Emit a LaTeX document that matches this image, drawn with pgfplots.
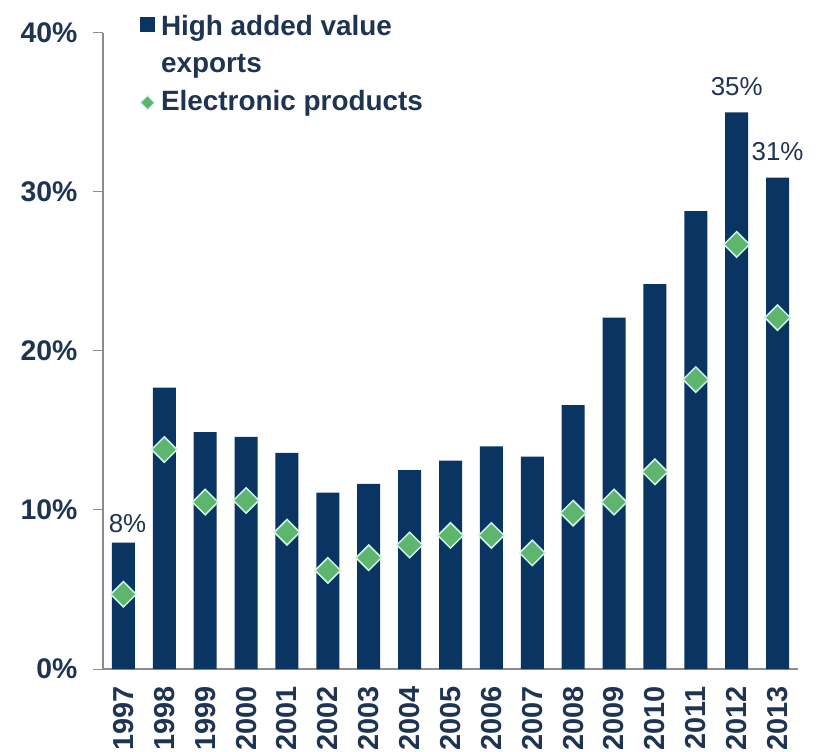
\documentclass[border=0pt]{standalone}
\usepackage{pgfplots}
\pgfplotsset{compat=1.18}
\usepackage{fontspec}
\setmainfont{Liberation Sans}
\definecolor{navy}{HTML}{0A3461}
\definecolor{txt}{HTML}{1E3452}
\definecolor{gmark}{HTML}{5DB56E}
\definecolor{gedge}{HTML}{CFF3E6}
\definecolor{axgray}{HTML}{8C8C8C}
\begin{document}
\begin{tikzpicture}
\useasboundingbox (-103bp,-83bp) rectangle (716bp,669bp);
\begin{axis}[
  at={(0,0)}, anchor=south west,
  scale only axis, width=695bp, height=636bp,
  xmin=-0.5, xmax=16.5, ymin=0, ymax=40,
  clip=false,
  axis x line*=bottom, axis y line*=left,
  axis line style={axgray, line width=1.2bp},
  xtick={0,...,16},
  xticklabels={1997,1998,1999,2000,2001,2002,2003,2004,2005,2006,2007,2008,2009,2010,2011,2012,2013},
  x tick label style={rotate=90, anchor=east, font=\bfseries\fontsize{29}{29}\selectfont, text=txt},
  xticklabel shift=4bp,
  x tick style={draw=none},
  ytick={0,10,20,30,40},
  yticklabel={\pgfmathprintnumber{\tick}\%},
  y tick label style={font=\bfseries\fontsize{28.5}{28.5}\selectfont, text=txt},
  yticklabel shift=12bp,
  /pgf/number format/assume math mode=true,
  y tick style={axgray, line width=1bp},
  tick align=outside, major tick length=10bp,
  legend style={at={(0.053,1.033)}, anchor=north west, draw=none, fill=none,
    font=\bfseries\fontsize{28}{30}\selectfont, text=txt, inner sep=0pt,
    nodes={text height=21bp, text depth=6bp},
    row sep=6.5bp,
    /tikz/every odd column/.append style={column sep=4bp}},
  legend cell align=left,
]
\addplot[ybar, bar width=23bp, fill=navy, draw=none,
  legend image code/.code={\fill[navy] (0bp,-4bp) rectangle (15bp,11bp);}]
  coordinates {(0,7.95) (1,17.7) (2,14.9) (3,14.6) (4,13.6) (5,11.1) (6,11.65) (7,12.5) (8,13.1) (9,14.0) (10,13.35) (11,16.6) (12,22.1) (13,24.2) (14,28.8) (15,35.0) (16,30.9)};
\addlegendentry{High added value}
\addlegendimage{empty legend}
\addlegendentry{exports}
\addplot[only marks, mark=square*, mark size=9bp,
  mark options={rotate=45, fill=gmark, draw=gedge, line width=1.5bp},
  legend image code/.code={\draw[mark=square*, mark size=5bp, mark options={rotate=45, fill=gmark, draw=gedge, line width=1bp}] plot coordinates {(7.5bp,0bp)};}]
  coordinates {(0,4.7) (1,13.8) (2,10.5) (3,10.6) (4,8.6) (5,6.2) (6,7.0) (7,7.8) (8,8.4) (9,8.4) (10,7.3) (11,9.8) (12,10.5) (13,12.4) (14,18.2) (15,26.7) (16,22.1)};
\addlegendentry{Electronic products}
\node[anchor=base, inner sep=0pt, font=\fontsize{26}{26}\selectfont, text=txt, yshift=10bp] at (axis cs:0.1,7.95) {8\%};
\node[anchor=base, inner sep=0pt, font=\fontsize{26}{26}\selectfont, text=txt, yshift=17bp] at (axis cs:15,35.0) {35\%};
\node[anchor=base, inner sep=0pt, font=\fontsize{26}{26}\selectfont, text=txt, yshift=17bp] at (axis cs:16,30.9) {31\%};
\end{axis}
\end{tikzpicture}
\end{document}
